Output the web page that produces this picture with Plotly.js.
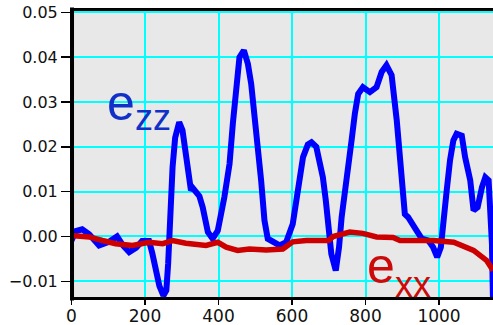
<!DOCTYPE html>
<html>
<head>
<meta charset="utf-8">
<script src="https://cdn.plot.ly/plotly-3.0.1.min.js"></script>
<style>html,body{margin:0;padding:0;background:#fff;}#chart{width:493px;height:325px;}</style>
</head>
<body>
<div id="chart"></div>
<script>
// e_zz (blue) series
const ezzX = [0, 12, 29, 48, 75, 102, 124, 140, 157, 176, 192, 211, 220, 231, 239, 250, 258, 263, 266, 271, 275, 282, 289, 293, 302, 307, 316, 325, 330, 343, 348, 357, 366, 371, 384, 398, 416, 430, 439, 446, 452, 457, 469, 480, 489, 498, 507, 516, 525, 534, 566, 584, 602, 616, 630, 643, 653, 666, 675, 684, 692, 698, 707, 719, 728, 735, 744, 753, 762, 771, 780, 793, 812, 830, 844, 857, 871, 885, 894, 903, 907, 916, 926, 939, 953, 971, 984, 995, 1005, 1012, 1021, 1030, 1039, 1048, 1062, 1071, 1085, 1094, 1105, 1117, 1126, 1135, 1141, 1144, 1147];
const ezzY = [-0.0009, 0.0012, 0.0016, 0.0005, -0.0020, -0.0012, 0.0000, -0.0020, -0.0035, -0.0025, -0.0010, -0.0010, -0.0038, -0.0080, -0.0110, -0.0132, -0.0120, -0.0060, 0.0007, 0.0088, 0.0155, 0.0220, 0.0255, 0.0255, 0.0237, 0.0207, 0.0155, 0.0103, 0.0108, 0.0092, 0.0090, 0.0065, 0.0035, 0.0010, -0.0005, 0.0013, 0.0088, 0.0162, 0.0252, 0.0311, 0.0370, 0.0400, 0.0415, 0.0385, 0.0340, 0.0274, 0.0185, 0.0125, 0.0036, -0.0005, -0.0020, -0.0013, 0.0028, 0.0110, 0.0177, 0.0205, 0.0210, 0.0200, 0.0170, 0.0132, 0.0080, 0.0021, -0.0039, -0.0076, -0.0024, 0.0043, 0.0110, 0.0170, 0.0214, 0.0274, 0.0318, 0.0333, 0.0322, 0.0333, 0.0367, 0.0382, 0.0360, 0.0259, 0.0170, 0.0095, 0.0050, 0.0043, 0.0032, 0.0013, -0.0005, -0.0009, -0.0024, -0.0046, -0.0024, 0.0043, 0.0103, 0.0170, 0.0214, 0.0229, 0.0225, 0.0177, 0.0125, 0.0058, 0.0065, 0.0110, 0.0132, 0.0125, 0.0058, -0.0016, -0.0150];

// e_xx (red) series
const exxX = [0, 48, 84, 120, 166, 211, 248, 275, 311, 366, 398, 421, 452, 484, 530, 575, 602, 639, 700, 712, 757, 793, 830, 875, 894, 939, 985, 1040, 1094, 1130, 1147];
const exxY = [0.0002, -0.0001, -0.0009, -0.0016, -0.0020, -0.0013, -0.0016, -0.0009, -0.0015, -0.0020, -0.0013, -0.0024, -0.0031, -0.0028, -0.0030, -0.0028, -0.0012, -0.0009, -0.0009, 0.0000, 0.0010, 0.0007, -0.0001, -0.0002, -0.0009, -0.0009, -0.0009, -0.0013, -0.0031, -0.0054, -0.0076];

const yTicks = [-0.01, 0.00, 0.01, 0.02, 0.03, 0.04, 0.05];
const yTickText = ["\u22120.01", "0.00", "0.01", "0.02", "0.03", "0.04", "0.05"];
const xTicks = [0, 200, 400, 600, 800, 1000];
const xTickText = ["0", "200", "400", "600", "800", "1000"];

const traces = [
  {x: ezzX, y: ezzY, type: 'scatter', mode: 'lines', line: {color: '#0000ff', width: 6}, hoverinfo: 'skip'},
  {x: exxX, y: exxY, type: 'scatter', mode: 'lines', line: {color: '#cc0000', width: 5.5}, hoverinfo: 'skip'}
];

const layout = {
  width: 493, height: 325,
  margin: {l: 71, r: 0, t: 11, b: 28, pad: 0},
  paper_bgcolor: '#ffffff',
  plot_bgcolor: '#e8e8e8',
  showlegend: false,
  font: {family: 'DejaVu Sans, Verdana, sans-serif', size: 16, color: '#111'},
  xaxis: {
    range: [-1.4, 1146.9], autorange: false,
    tickmode: 'array', tickvals: xTicks, ticktext: xTickText,
    ticks: 'outside', ticklen: 5, tickwidth: 1.5, tickcolor: '#000',
    ticklabelstandoff: -3,
    showgrid: true, gridcolor: '#00ffff', gridwidth: 2,
    zeroline: false,
    showline: true, linecolor: '#000', linewidth: 3, mirror: true,
    tickfont: {family: 'DejaVu Sans, Verdana, sans-serif', size: 17, color: '#111'}
  },
  yaxis: {
    range: [-0.0135, 0.0503], autorange: false,
    tickmode: 'array', tickvals: yTicks, ticktext: yTickText,
    ticks: 'outside', ticklen: 9, tickwidth: 1.5, tickcolor: '#000',
    showgrid: true, gridcolor: '#00ffff', gridwidth: 2,
    zeroline: false,
    showline: false,
    tickfont: {family: 'DejaVu Sans, Verdana, sans-serif', size: 16, color: '#111'}
  },
  shapes: [
    {type: 'line', xref: 'paper', yref: 'paper', x0: 0.0024, x1: 0.0024, y0: -0.012, y1: 1.012,
     line: {color: '#000', width: 4}, layer: 'above'}
  ],
  annotations: [
    {xref: 'paper', yref: 'paper', x: 0.081, y: 0.680, xanchor: 'left', yanchor: 'middle', showarrow: false,
     text: 'e', font: {family: 'Liberation Sans, Arial, sans-serif', size: 50, color: '#1030c8'}},
    {xref: 'paper', yref: 'paper', x: 0.147, y: 0.626, xanchor: 'left', yanchor: 'middle', showarrow: false,
     text: 'zz', font: {family: 'Liberation Sans, Arial, sans-serif', size: 36, color: '#1030c8'}},
    {xref: 'paper', yref: 'paper', x: 0.697, y: 0.109, xanchor: 'left', yanchor: 'middle', showarrow: false,
     text: 'e', font: {family: 'Liberation Sans, Arial, sans-serif', size: 50, color: '#cc0a0a'}},
    {xref: 'paper', yref: 'paper', x: 0.764, y: 0.045, xanchor: 'left', yanchor: 'middle', showarrow: false,
     text: 'xx', font: {family: 'Liberation Sans, Arial, sans-serif', size: 36, color: '#cc0a0a'}}
  ]
};

Plotly.newPlot('chart', traces, layout, {staticPlot: true, displayModeBar: false});
</script>
</body>
</html>
